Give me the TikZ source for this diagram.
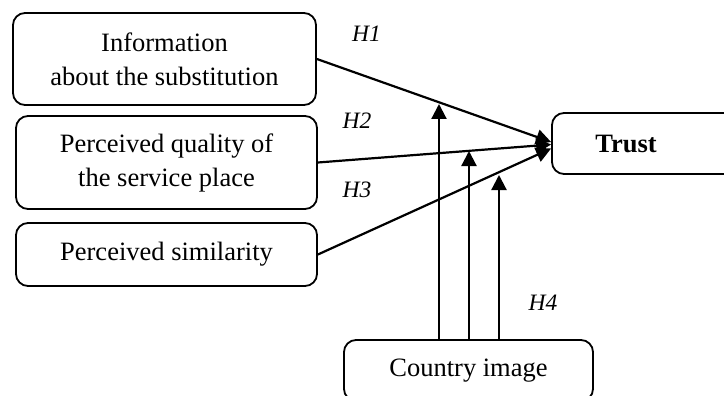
\documentclass[tikz,border=0pt]{standalone}
\usepackage{fontspec}
\setmainfont{Liberation Serif}
\usetikzlibrary{arrows.meta,calc}
\begin{document}
\begin{tikzpicture}[x=1pt,y=-1pt,
  box/.style={draw,line width=1.8pt,rounded corners=12pt,align=center,inner sep=0pt,
    font=\fontsize{26.5}{34}\selectfont},
  arr/.style={line width=2.2pt,-{Triangle[length=15pt,width=15pt]}},
  hlab/.style={font=\fontsize{23.5}{28}\selectfont\itshape,inner sep=0pt}]
\useasboundingbox (0,0) rectangle (724,396);
\node[box,minimum width=303pt,minimum height=92pt] (info) at (164.5,59) {Information\\about the substitution};
\node[box,minimum width=301pt,minimum height=93pt] (qual) at (166.5,162.5) {Perceived quality of\\the service place};
\node[box,minimum width=301pt,minimum height=63pt] (sim) at (166.5,254.5) {Perceived similarity};
\node[box,minimum width=190pt,minimum height=61pt] (trust) at (647,143.5) {};
\node[font=\fontsize{26.5}{34}\selectfont\bfseries,inner sep=0pt] (trustlab) at (626,143.5) {Trust};
\node[box,minimum width=249pt,minimum height=61pt] (country) at (468.5,370.5) {Country image};
\coordinate (t1) at ($(trust.west)+(0,-1.5)$);
\coordinate (t2) at ($(trust.west)+(0,1)$);
\coordinate (t3) at ($(trust.west)+(0,5)$);
\draw[arr] (info.east) -- (t1);
\draw[arr] (qual.east) -- (t2);
\draw[arr] (sim.east) -- (t3);
\coordinate (m1) at (439,104);
\coordinate (m2) at (469,151);
\coordinate (m3) at (499,175);
\draw[arr] (country.north -| m1) -- (m1);
\draw[arr] (country.north -| m2) -- (m2);
\draw[arr] (country.north -| m3) -- (m3);
\node[hlab] (h1) at (366.5,33.5) {H1};
\node[hlab] (h2) at (357,121) {H2};
\node[hlab] (h3) at (357,190) {H3};
\node[hlab] (h4) at (543,303) {H4};
\end{tikzpicture}
\end{document}
